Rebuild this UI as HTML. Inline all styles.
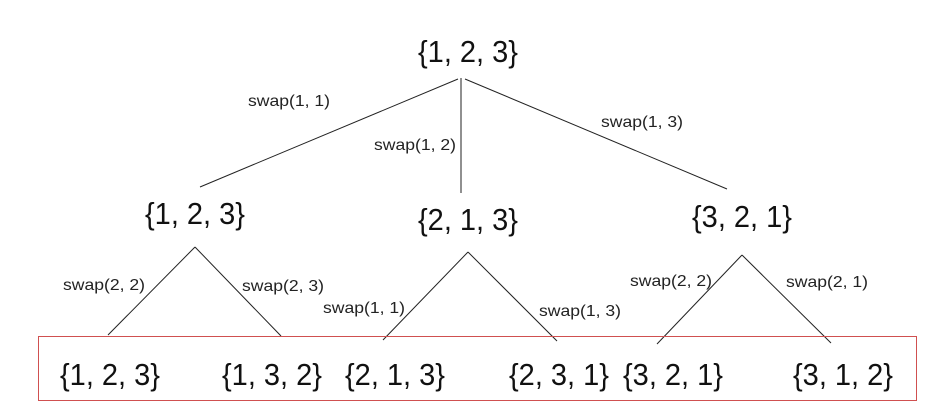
<!DOCTYPE html>
<html><head><style>body{margin:0;background:#fff}</style></head><body>
<svg width="948" height="409" xmlns="http://www.w3.org/2000/svg" style="display:block">
<rect width="948" height="409" fill="#fff"/>
<g stroke="#222" stroke-width="1" fill="none">
<line x1="458" y1="79" x2="200" y2="187"/>
<line x1="461" y1="78" x2="461" y2="193"/>
<line x1="465" y1="79" x2="727" y2="189"/>
<line x1="195" y1="247" x2="108" y2="335"/>
<line x1="195" y1="247" x2="281" y2="336"/>
<line x1="468" y1="252" x2="383" y2="340"/>
<line x1="468" y1="252" x2="557" y2="341"/>
<line x1="742" y1="255" x2="657" y2="344"/>
<line x1="742" y1="255" x2="831" y2="343"/>
</g>
<rect x="38.5" y="336.5" width="878" height="64" fill="none" stroke="#d05050" stroke-width="1"/>
<g font-family="Liberation Sans, sans-serif" font-size="31" fill="#111" text-anchor="middle">
<text x="468" y="62" textLength="100" lengthAdjust="spacingAndGlyphs">{1, 2, 3}</text>
<text x="195" y="224" textLength="100" lengthAdjust="spacingAndGlyphs">{1, 2, 3}</text>
<text x="468" y="230" textLength="100" lengthAdjust="spacingAndGlyphs">{2, 1, 3}</text>
<text x="742" y="227" textLength="100" lengthAdjust="spacingAndGlyphs">{3, 2, 1}</text>
<text x="110" y="385" textLength="100" lengthAdjust="spacingAndGlyphs">{1, 2, 3}</text>
<text x="272" y="385" textLength="100" lengthAdjust="spacingAndGlyphs">{1, 3, 2}</text>
<text x="395" y="385" textLength="100" lengthAdjust="spacingAndGlyphs">{2, 1, 3}</text>
<text x="559" y="385" textLength="100" lengthAdjust="spacingAndGlyphs">{2, 3, 1}</text>
<text x="673" y="385" textLength="100" lengthAdjust="spacingAndGlyphs">{3, 2, 1}</text>
<text x="843" y="385" textLength="100" lengthAdjust="spacingAndGlyphs">{3, 1, 2}</text>
</g>
<g font-family="Liberation Sans, sans-serif" font-size="16" fill="#222">
<text x="248" y="106" textLength="82" lengthAdjust="spacingAndGlyphs">swap(1, 1)</text>
<text x="374" y="150" textLength="82" lengthAdjust="spacingAndGlyphs">swap(1, 2)</text>
<text x="601" y="127" textLength="82" lengthAdjust="spacingAndGlyphs">swap(1, 3)</text>
<text x="63" y="290" textLength="82" lengthAdjust="spacingAndGlyphs">swap(2, 2)</text>
<text x="242" y="291" textLength="82" lengthAdjust="spacingAndGlyphs">swap(2, 3)</text>
<text x="323" y="313" textLength="82" lengthAdjust="spacingAndGlyphs">swap(1, 1)</text>
<text x="539" y="316" textLength="82" lengthAdjust="spacingAndGlyphs">swap(1, 3)</text>
<text x="630" y="286" textLength="82" lengthAdjust="spacingAndGlyphs">swap(2, 2)</text>
<text x="786" y="287" textLength="82" lengthAdjust="spacingAndGlyphs">swap(2, 1)</text>
</g>
</svg>
</body></html>
